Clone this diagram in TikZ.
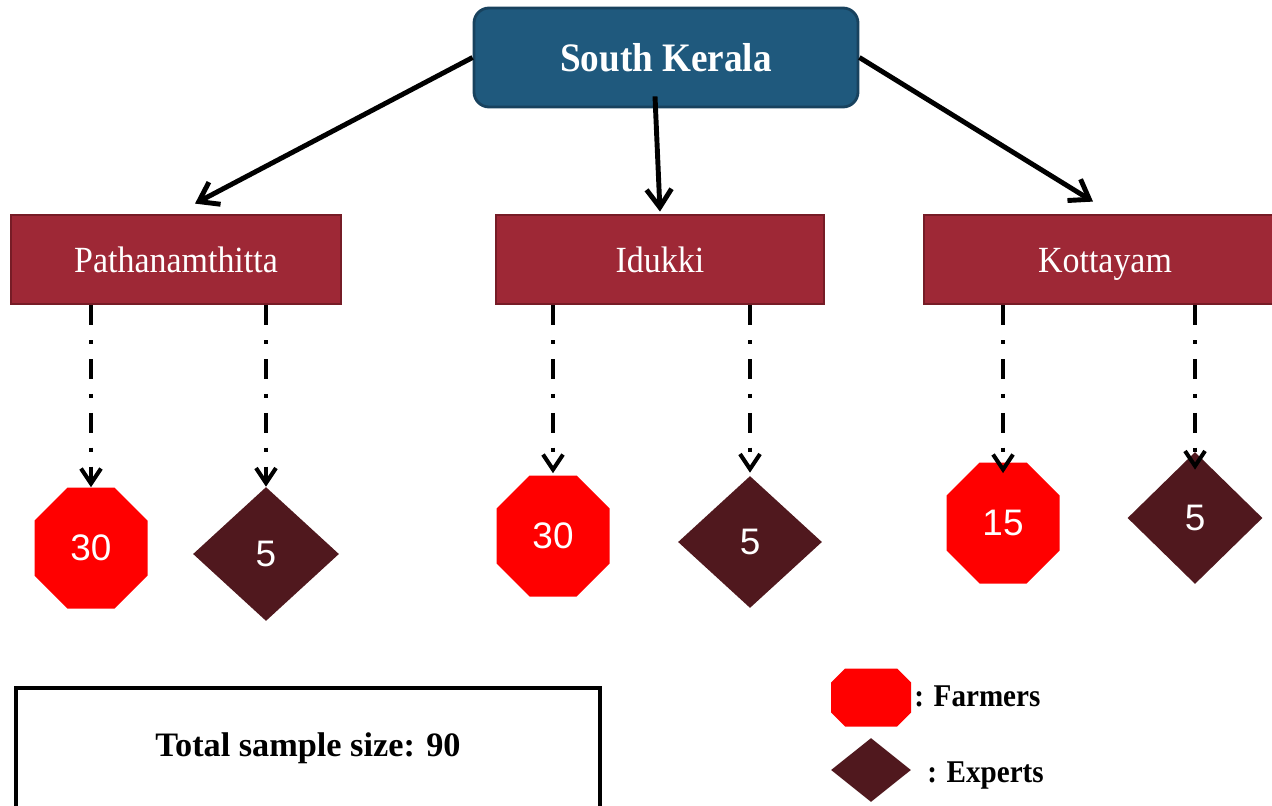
\documentclass[tikz,border=0pt]{standalone}
\usepackage{fontspec}
\setmainfont{Liberation Serif}
\newfontfamily\condserif{Liberation Serif}[FakeStretch=0.92]
\newfontfamily\numfont{Liberation Sans}
\usetikzlibrary{shapes.geometric,arrows.meta}
\definecolor{regionblue}{RGB}{31,89,125}
\definecolor{regionedge}{RGB}{24,66,94}
\definecolor{districtred}{RGB}{158,40,54}
\definecolor{districtedge}{RGB}{118,28,38}
\definecolor{farmred}{RGB}{255,0,0}
\definecolor{expertbrown}{RGB}{80,24,30}

\begin{document}
\begin{tikzpicture}[x=1cm,y=1cm,
  region/.style={rectangle, rounded corners=0.3cm, fill=regionblue, draw=regionedge, line width=1.6pt,
    minimum width=7.68cm, minimum height=1.98cm, text=white,
    font=\condserif\bfseries\fontsize{23}{26}\selectfont},
  district/.style={rectangle, fill=districtred, draw=districtedge, line width=1.6pt,
    minimum height=1.78cm, text height=14.5pt, text depth=0pt, text=white,
    font=\condserif\fontsize{21}{24}\selectfont},
  octa/.style={rectangle, inner sep=0pt,
    path picture={\fill[farmred]
      ([xshift=#1]path picture bounding box.north west) -- ([xshift=-#1]path picture bounding box.north east)
      -- ([yshift=-#1]path picture bounding box.north east) -- ([yshift=#1]path picture bounding box.south east)
      -- ([xshift=-#1]path picture bounding box.south east) -- ([xshift=#1]path picture bounding box.south west)
      -- ([yshift=#1]path picture bounding box.south west) -- ([yshift=-#1]path picture bounding box.north west)
      -- cycle;}},
  farmer/.style={octa=0.66cm, minimum width=2.26cm, minimum height=2.42cm,
    text=white, font=\numfont\fontsize{21}{24}\selectfont},
  expert/.style={diamond, inner sep=0pt, fill=expertbrown, minimum width=2.92cm, minimum height=2.68cm,
    text=white, font=\numfont\fontsize{21}{24}\selectfont},
  legend/.style={inner sep=0pt, font=\condserif\bfseries\fontsize{18}{22}\selectfont},
  totalbox/.style={rectangle, draw=black, line width=2pt, minimum width=11.68cm, minimum height=2.4cm,
    font=\bfseries\fontsize{19.5}{23}\selectfont},
  branch/.style={-{Straight Barb[length=0.36cm,width=0.5cm]}, line width=2.8pt},
  sample/.style={-{Straight Barb[length=0.3cm,width=0.4cm]}, line width=2.3pt,
    dash pattern=on 11.3pt off 8.5pt on 2.3pt off 8.5pt}
]
  \useasboundingbox (0,0) rectangle (25.44,16.1);
  \clip (0,0) rectangle (25.44,16.1);

  % region and districts
  \node[region] (sk) at (13.32,14.95) {South Kerala};
  \node[district, minimum width=6.6cm] (pat) at (3.52,10.91) {Pathanamthitta};
  \node[district, minimum width=6.56cm] (idk) at (13.2,10.91) {Idukki};
  \node[district, minimum width=7.24cm] (kot) at (22.1,10.91) {Kottayam};

  % samples
  \node[farmer] (patf) at (1.82,5.14) {30};
  \node[expert] (pate) at (5.32,5.02) {5};
  \node[farmer] (idkf) at (11.06,5.38) {30};
  \node[expert, minimum width=2.88cm, minimum height=2.64cm] (idke) at (15.0,5.26) {5};
  \node[farmer] (kotf) at (20.06,5.64) {15};
  \node[expert, minimum width=2.7cm, minimum height=2.64cm] (kote) at (23.9,5.74) {5};

  \draw[branch] (sk.west) -- ([xshift=0.38cm,yshift=0.2cm]pat.north);
  \draw[branch] ([xshift=-0.22cm,yshift=0.24cm]sk.south) -- ([yshift=0.04cm]idk.north);
  \draw[branch] (sk.east) -- ([xshift=-0.24cm,yshift=0.24cm]kot.north);

  \draw[sample] (pat.south -| patf.north) -- (patf.north);
  \draw[sample] (pat.south -| pate.north) -- (pate.north);
  \draw[sample] (idk.south -| idkf.north) -- ([yshift=0.04cm]idkf.north);
  \draw[sample] (idk.south -| idke.north) -- ([yshift=0.06cm]idke.north);
  \draw[sample] (kot.south -| kotf.north) -- ([yshift=-0.22cm]kotf.north);
  \draw[sample] (kot.south -| kote.north) -- ([yshift=-0.36cm]kote.north);

  % legend
  \node[octa=0.28cm, minimum width=1.6cm, minimum height=1.16cm] (legf) at (17.42,2.15) {};
  \node[expert, minimum width=1.6cm, minimum height=1.28cm] (lege) at (17.42,0.7) {};
  \node[legend, anchor=base west] (legft) at (18.28,1.98) {: Farmers};
  \node[legend, anchor=base west] (leget) at (18.54,0.46) {: Experts};

  \node[totalbox] (total) at (6.16,1.14) {Total sample size: 90};
\end{tikzpicture}
\end{document}
